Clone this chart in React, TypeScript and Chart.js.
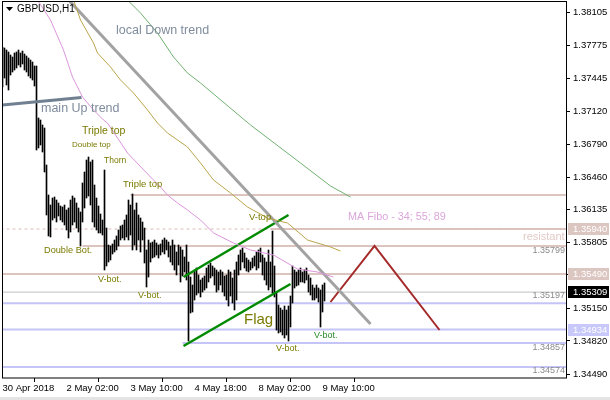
import React, { useEffect, useRef } from "react";
import { Chart, registerables } from "chart.js";
Chart.register(...registerables);

// ---- data (H1 bars, high / low) ----
const barHigh = [
  1.3776, 1.3775, 1.3773, 1.3771, 1.3768, 1.3766, 1.377, 1.3771, 1.3773, 1.377,
  1.3772, 1.3769, 1.3767, 1.3765, 1.3763, 1.3761, 1.3757, 1.3757, 1.3705, 1.3703,
  1.3698, 1.3695, 1.3658, 1.3628, 1.3618, 1.3625, 1.3626, 1.3623, 1.362, 1.3617,
  1.3616, 1.3618, 1.3613, 1.3615, 1.3623, 1.3627, 1.3625, 1.362, 1.3615, 1.3611,
  1.364, 1.3651, 1.3663, 1.3666, 1.3661, 1.3663, 1.3638, 1.3625, 1.3617, 1.3609,
  1.3603, 1.3653, 1.3595, 1.3578, 1.3577, 1.3579, 1.3583, 1.3587, 1.3593, 1.3597,
  1.3598, 1.3603, 1.3608, 1.3623, 1.3618, 1.3629, 1.3613, 1.362, 1.3608, 1.3605,
  1.3601, 1.3595, 1.3573, 1.3583, 1.358, 1.3581, 1.3583, 1.358, 1.3578, 1.3579,
  1.3583, 1.3585, 1.3583, 1.3581, 1.3577, 1.3583, 1.3578, 1.3571, 1.3578, 1.3576,
  1.3573, 1.3566, 1.3578, 1.3561, 1.3546, 1.3538, 1.3553, 1.3555, 1.3548, 1.3543,
  1.3545, 1.3547, 1.3555, 1.3558, 1.356, 1.3557, 1.3555, 1.3553, 1.3551, 1.3553,
  1.3551, 1.3547, 1.3548, 1.3553, 1.3551, 1.3545, 1.3553, 1.3561, 1.3568, 1.3573,
  1.3575, 1.357, 1.3565, 1.3563, 1.3561, 1.3565, 1.3567, 1.3571, 1.3573, 1.3575,
  1.3568, 1.3565, 1.3561, 1.3573, 1.3561, 1.3592, 1.3557, 1.353, 1.3518, 1.3515,
  1.3513, 1.3517, 1.3513, 1.3517, 1.3527, 1.3557, 1.3553, 1.3551, 1.3553, 1.3555,
  1.3551, 1.3553, 1.3555, 1.3548, 1.3545, 1.3538, 1.3535, 1.3538, 1.3535, 1.3533,
  1.3538, 1.354,
];
const barLow = [
  1.3736, 1.3745, 1.3738, 1.3733, 1.3748, 1.3751, 1.3753, 1.3755, 1.3758, 1.3756,
  1.3759, 1.3753, 1.3751, 1.3747, 1.3745, 1.3743, 1.3737, 1.3673, 1.3675, 1.3678,
  1.3671, 1.3651, 1.3608, 1.3587, 1.3586, 1.3603, 1.3605, 1.3601, 1.3607, 1.3603,
  1.3601, 1.3598, 1.3593, 1.3585, 1.3591, 1.3598, 1.3601, 1.3595, 1.3591, 1.3577,
  1.3601, 1.3615, 1.3625, 1.3627, 1.3618, 1.3601, 1.3596, 1.3593, 1.359, 1.359,
  1.3588, 1.3553, 1.3557, 1.3561, 1.3563, 1.3569, 1.3571, 1.3573, 1.3577, 1.3583,
  1.3585, 1.3583, 1.3586, 1.3583, 1.3588, 1.3573, 1.3578, 1.3573, 1.3583, 1.3571,
  1.3583, 1.356, 1.3536, 1.3546, 1.3561, 1.3565, 1.3566, 1.3568, 1.3565, 1.3568,
  1.3571, 1.3569, 1.3573, 1.3566, 1.3561, 1.3558, 1.3553, 1.3548, 1.3558, 1.3541,
  1.3547, 1.3551, 1.3543, 1.3482, 1.351, 1.3511, 1.3523, 1.3528, 1.353, 1.3526,
  1.3531, 1.3533, 1.3535, 1.3541, 1.3545, 1.3547, 1.3538, 1.3531, 1.3533, 1.3538,
  1.3531, 1.3527, 1.3523, 1.3517, 1.3527, 1.352, 1.3513, 1.3523, 1.3548, 1.3553,
  1.3561, 1.3555, 1.3552, 1.3551, 1.3553, 1.3555, 1.3557, 1.3553, 1.3555, 1.3561,
  1.3548, 1.3543, 1.3538, 1.3533, 1.3536, 1.353, 1.3526, 1.3493, 1.349, 1.3491,
  1.3488, 1.3485, 1.3488, 1.3482, 1.3496, 1.352, 1.3535, 1.3537, 1.3538, 1.3541,
  1.3541, 1.354, 1.3543, 1.3531, 1.3528, 1.3523, 1.3523, 1.3525, 1.3521, 1.3496,
  1.3511, 1.3522,
];

const timeTickIndex = [0, 32, 64, 96, 128, 160];
const timeTickLabels = ["30 Apr 2018", "2 May 02:00", "3 May 10:00", "4 May 18:00", "8 May 02:00", "9 May 10:00"];
const priceTicks = [1.38105, 1.37775, 1.37445, 1.3712, 1.3679, 1.3646, 1.36135, 1.35805, 1.3549, 1.3515, 1.3482, 1.3449];

// moving averages (shifted), read as (bar index, price)
const maVioletIdx = [17.5, 24, 30.5, 35, 40, 45.5, 50.5, 52.5, 62.5, 74, 79, 82.5, 87.5, 92.5, 99, 105.5, 115.5, 124, 135.5, 147.5, 157.5, 165.5];
const maVioletVal = [1.3823, 1.3803, 1.3773, 1.3746, 1.3726, 1.3713, 1.3703, 1.37, 1.367, 1.3646, 1.3636, 1.3628, 1.362, 1.3613, 1.3603, 1.359, 1.358, 1.3573, 1.3568, 1.3554, 1.3551, 1.3546];
const maOliveIdx = [35.5, 39, 45.5, 47.5, 54, 59, 65.5, 72.5, 77.5, 82.5, 92.5, 99, 105.5, 114, 122.5, 132.5, 142.5, 152.5, 164, 169];
const maOliveVal = [1.3823, 1.3803, 1.378, 1.377, 1.3756, 1.3743, 1.373, 1.3713, 1.37, 1.369, 1.3676, 1.366, 1.3643, 1.363, 1.3616, 1.3605, 1.36, 1.3583, 1.3576, 1.3572];
const maGreenIdx = [62.5, 69, 77.5, 85.5, 92.5, 99, 124, 149, 164, 174];
const maGreenVal = [1.3823, 1.381, 1.379, 1.3766, 1.375, 1.374, 1.3698, 1.366, 1.3637, 1.3626];

// trend objects (bar index, price)
const upTrendIdx = [0, 39.5];
const upTrendVal = [1.3718, 1.37255];
const downTrendIdx = [33.5, 184];
const downTrendVal = [1.3822, 1.3499];
const flagTopIdx = [90.5, 143];
const flagTopVal = [1.3546, 1.3608];
const flagBotIdx = [90.5, 144];
const flagBotVal = [1.3477, 1.3539];
const zigzagIdx = [164, 186, 218.5];
const zigzagVal = [1.3521, 1.3577, 1.3493];

// horizontal levels
const levelPrice = [1.3628, 1.3594, 1.3594, 1.3577, 1.3549, 1.35309, 1.35197, 1.34934, 1.348, 1.3456];
const levelFrom = [64, -1, 134, 40, -1, -1, -1, -1, 90, -1];
const levelKind = ["res", "resDash", "res", "res", "res", "price", "sup", "sup", "sup", "sup"];

const notes = [
  { text: "local Down trend", i: 56.75, p: 1.3792, color: "#7f8c9c", size: 12.5 },
  { text: "main Up trend", i: 19.25, p: 1.3714, color: "#7f8c9c", size: 12.5 },
  { text: "Triple top", i: 39.75, p: 1.3692, color: "#7a7a00", size: 10.5 },
  { text: "Double top", i: 34.75, p: 1.3678, color: "#7a7a00", size: 8 },
  { text: "Thorn", i: 50.75, p: 1.3662, color: "#7a7a00", size: 8.5 },
  { text: "Triple top", i: 60.25, p: 1.3639, color: "#7a7a00", size: 9.5 },
  { text: "Double Bot.", i: 20.75, p: 1.3573, color: "#7a7a00", size: 9.2 },
  { text: "V-bot.", i: 47.75, p: 1.3543, color: "#7a7a00", size: 9 },
  { text: "V-bot.", i: 67.75, p: 1.3527, color: "#7a7a00", size: 9 },
  { text: "V-top", i: 123.25, p: 1.3606, color: "#7a7a00", size: 9.5 },
  { text: "Flag", i: 120.75, p: 1.3503, color: "#7a7a00", size: 15 },
  { text: "V-bot.", i: 136.75, p: 1.3474, color: "#7a7a00", size: 9 },
  { text: "V-bot.", i: 155.75, p: 1.3487, color: "#2a8a2a", size: 9 },
  { text: "MA Fibo - 34; 55; 89", i: 172.75, p: 1.3606, color: "#dba6db", size: 10.8 },
  { text: "resistant", i: 260.25, p: 1.3586, color: "#e2cac6", size: 11 },
];
const priceNotes = [
  { text: "1.35799", p: 1.3572 },
  { text: "1.35197", p: 1.3527 },
  { text: "1.34857", p: 1.3475 },
  { text: "1.34574", p: 1.3452 },
];
const axisBoxes = [
  { text: "1.35940", p: 1.3594, bg: "#dcc6c1" },
  { text: "1.35490", p: 1.3549, bg: "#dcc6c1" },
  { text: "1.35309", p: 1.35309, bg: "#000000" },
  { text: "1.34934", p: 1.34934, bg: "#c8c8fa" },
];

const FONT = '"Liberation Sans", Arial, sans-serif';
const X_MAX = 281.75;

const pts = (ix: number[], v: number[]) => ix.map((x, k) => ({ x, y: v[k] }));

const overlay = {
  id: "overlay",
  beforeDraw(chart: any) {
    const { ctx, width, height } = chart;
    ctx.save();
    ctx.fillStyle = "#ffffff";
    ctx.fillRect(0, 0, width, height);
    ctx.fillStyle = "#e4e4e4";
    ctx.fillRect(0, height - 3, width, 3);
    ctx.restore();
  },
  afterDatasetsDraw(chart: any) {
    const { ctx, chartArea: a, scales } = chart;
    const x = scales.x, y = scales.y;
    ctx.save();
    ctx.beginPath();
    ctx.rect(a.left, a.top, a.right - a.left, a.bottom - a.top);
    ctx.clip();
    ctx.textBaseline = "middle";
    for (const t of notes) {
      ctx.font = `${t.size}px ${FONT}`;
      ctx.fillStyle = t.color;
      ctx.textAlign = "left";
      ctx.fillText(t.text, x.getPixelForValue(t.i), y.getPixelForValue(t.p));
    }
    ctx.font = `9px ${FONT}`;
    ctx.fillStyle = "#8a8a8a";
    ctx.textAlign = "right";
    for (const t of priceNotes) {
      ctx.fillText(t.text, a.right - 1, y.getPixelForValue(t.p));
    }
    ctx.restore();
  },
  afterDraw(chart: any) {
    const { ctx, chartArea: a, scales } = chart;
    const y = scales.y;
    ctx.save();
    ctx.strokeStyle = "#000";
    ctx.lineWidth = 1;
    ctx.strokeRect(a.left + 0.5, a.top - 0.5, a.right - a.left, a.bottom - a.top + 0.5);
    // header
    ctx.fillStyle = "#000";
    ctx.beginPath();
    ctx.moveTo(a.left + 4, a.top + 5);
    ctx.lineTo(a.left + 11, a.top + 5);
    ctx.lineTo(a.left + 7.5, a.top + 9);
    ctx.closePath();
    ctx.fill();
    ctx.font = `10px ${FONT}`;
    ctx.textBaseline = "middle";
    ctx.textAlign = "left";
    ctx.fillText("GBPUSD,H1", a.left + 15, a.top + 7);
    // axis boxes
    ctx.font = `9.5px ${FONT}`;
    for (const b of axisBoxes) {
      const py = Math.round(y.getPixelForValue(b.p));
      ctx.fillStyle = b.bg;
      ctx.fillRect(a.right + 2, py - 6, 41, 12);
      ctx.fillStyle = "#ffffff";
      ctx.fillText(b.text, a.right + 7, py + 0.5);
    }
    ctx.restore();
  },
};

const noPad = (s: any) => {
  s.paddingTop = 0;
  s.paddingBottom = 0;
  s.paddingLeft = 0;
  s.paddingRight = 0;
};

export default function App() {
  const ref = useRef<HTMLCanvasElement | null>(null);
  useEffect(() => {
    document.body.style.margin = "0";
    const canvas = ref.current;
    if (!canvas) return;
    const levelStyle: Record<string, any> = {
      res: { borderColor: "#dcc4bf", borderWidth: 2 },
      resDash: { borderColor: "#dcbcb6", borderWidth: 1, borderDash: [3, 3] },
      price: { borderColor: "#c0c0c0", borderWidth: 1 },
      sup: { borderColor: "#c4c4f6", borderWidth: 2 },
    };
    const levelSets = levelPrice.map((p, k) => ({
      type: "line",
      data: [{ x: levelFrom[k], y: p }, { x: X_MAX + 1, y: p }],
      pointRadius: 0,
      order: 3,
      ...levelStyle[levelKind[k]],
    }));
    const lineSet = (ix: number[], v: number[], color: string, w: number) => ({
      type: "line",
      data: pts(ix, v),
      borderColor: color,
      borderWidth: w,
      pointRadius: 0,
      tension: 0,
      order: 1,
    });
    const chart = new Chart(canvas, {
      type: "bar",
      data: {
        datasets: [
          ...levelSets,
          {
            type: "bar",
            data: barHigh.map((h, i) => ({ x: i, y: [barLow[i], h] })),
            backgroundColor: "#000000",
            borderWidth: 0,
            barThickness: 1,
            order: 2,
          },
          lineSet(maVioletIdx, maVioletVal, "#dc96dc", 1),
          lineSet(maOliveIdx, maOliveVal, "#bba64c", 1),
          lineSet(maGreenIdx, maGreenVal, "#72b272", 1),
          lineSet(upTrendIdx, upTrendVal, "#708090", 3),
          lineSet(downTrendIdx, downTrendVal, "#a2a2a2", 3),
          lineSet(flagTopIdx, flagTopVal, "#008a00", 2.5),
          lineSet(flagBotIdx, flagBotVal, "#008a00", 2.5),
          lineSet(zigzagIdx, zigzagVal, "#a52a2a", 2),
        ] as any,
      },
      options: {
        animation: false,
        responsive: false,
        maintainAspectRatio: false,
        layout: { padding: { left: 2, top: 2, right: 0, bottom: 0 } },
        plugins: { legend: { display: false }, tooltip: { enabled: false } },
        scales: {
          x: {
            type: "linear",
            min: -0.25,
            max: X_MAX,
            offset: false,
            grid: { drawOnChartArea: false, drawTicks: true, tickLength: 4, color: "#000" },
            border: { display: false },
            ticks: {
              autoSkip: false,
              maxRotation: 0,
              align: "start",
              padding: 1,
              color: "#000",
              font: { family: FONT, size: 9.5 },
              callback: (v: any) => {
                const k = timeTickIndex.indexOf(Number(v));
                return k >= 0 ? timeTickLabels[k] : "";
              },
            },
            afterBuildTicks: (s: any) => {
              s.ticks = timeTickIndex.map((value) => ({ value }));
            },
            afterFit: (s: any) => {
              s.height = 22;
              noPad(s);
            },
          },
          y: {
            type: "linear",
            position: "right",
            min: 1.3445,
            max: 1.3821,
            grid: { drawOnChartArea: false, drawTicks: true, tickLength: 4, color: "#000" },
            border: { display: false },
            ticks: {
              padding: 3,
              color: "#000",
              font: { family: FONT, size: 9.5 },
              callback: (v: any) => Number(v).toFixed(5),
            },
            afterBuildTicks: (s: any) => {
              s.ticks = priceTicks.map((value) => ({ value }));
            },
            afterFit: (s: any) => {
              s.width = 44;
              noPad(s);
            },
          },
        },
      } as any,
      plugins: [overlay],
    });
    return () => chart.destroy();
  }, []);
  return (
    <div style={{ width: 610, height: 400 }}>
      <canvas ref={ref} width={610} height={400} style={{ display: "block" }} />
    </div>
  );
}
